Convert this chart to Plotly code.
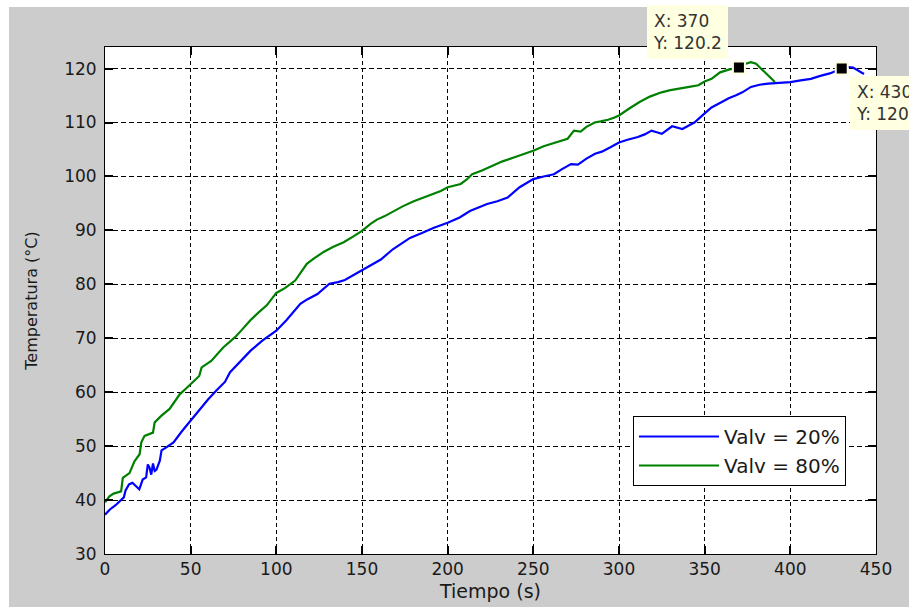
import plotly.graph_objects as go

# ---- data ----
t_20 = [0, 3, 6, 9, 11, 12, 14, 16, 18, 20, 22, 24, 25, 26, 27, 28, 29, 30, 32, 33, 36, 40,
        45, 50, 55, 60, 65, 70, 73, 78, 85, 92, 100, 106, 112, 114, 118, 124, 131, 136, 140,
        145, 150, 155, 161, 168, 173, 178, 185, 192, 200, 207, 213, 218, 223, 229, 235, 242,
        250, 256, 262, 267, 272, 276, 281, 286, 290, 295, 300, 305, 311, 315, 319, 322, 325,
        331, 334, 337, 341, 344, 350, 354, 360, 364, 368, 372, 377, 382, 387, 393, 400, 406,
        412, 417, 423, 427, 430, 433, 436.6, 440, 443]
temp_20 = [37.3, 38.3, 39.0, 39.8, 40.5, 41.8, 42.9, 43.2, 42.5, 42.0, 43.8, 44.2, 46.6, 46.0,
           44.7, 46.8, 45.4, 45.6, 47.3, 49.2, 49.8, 50.7, 52.8, 54.8, 56.8, 58.6, 60.3, 61.9,
           63.7, 65.4, 67.7, 69.6, 71.4, 73.4, 75.8, 76.4, 77.2, 78.2, 80.1, 80.4, 80.8, 81.7,
           82.6, 83.5, 84.6, 86.5, 87.5, 88.6, 89.5, 90.5, 91.4, 92.4, 93.6, 94.2, 94.9, 95.4,
           96.1, 98.0, 99.5, 100.0, 100.4, 101.4, 102.3, 102.2, 103.3, 104.2, 104.6, 105.4,
           106.3, 106.8, 107.3, 107.8, 108.5, 108.2, 107.9, 109.3, 109.0, 108.8, 109.5, 110.0,
           111.7, 112.8, 113.8, 114.5, 115.0, 115.6, 116.6, 117.0, 117.2, 117.3, 117.5, 117.8,
           118.1, 118.6, 119.1, 119.6, 120.0, 120.3, 120.2, 119.6, 119.0]

t_80 = [0, 2.6, 5, 9.4, 10.4, 12, 14.3, 16, 17.2, 20.2, 21.2, 23.1, 26, 28, 29, 32.8, 37.7,
        40, 43.6, 47, 51.3, 55, 56.4, 62, 69, 75.9, 80, 84.7, 90, 94.4, 100, 105, 111, 114,
        117.8, 122, 127.6, 133, 139.3, 145, 150, 155, 158.7, 163, 168.5, 174, 180.2, 186,
        191.9, 196, 200, 204, 207.6, 211, 214.3, 220, 226.9, 232, 238.6, 244, 250.3, 256, 262,
        266.2, 270, 273.7, 277.6, 281, 285.8, 289.3, 293.6, 297, 300, 306, 312, 318, 324.8,
        330, 336.5, 341, 346.3, 350, 354, 359, 364, 370, 374, 377, 380, 382, 386, 391]
temp_80 = [39.6, 40.7, 41.2, 41.6, 44.1, 44.5, 45.0, 46.3, 47.2, 48.5, 50.7, 51.9, 52.3, 52.5,
           54.4, 55.6, 56.9, 58.0, 59.6, 60.6, 61.8, 63.0, 64.6, 65.8, 68.3, 70.2, 71.6, 73.3,
           74.9, 76.1, 78.4, 79.3, 80.7, 82.0, 83.8, 84.8, 86.0, 86.9, 87.8, 88.9, 89.9, 91.2,
           92.0, 92.6, 93.6, 94.5, 95.4, 96.1, 96.7, 97.3, 98.0, 98.3, 98.6, 99.4, 100.4, 101.1,
           102.0, 102.8, 103.5, 104.1, 104.8, 105.6, 106.2, 106.6, 107.0, 108.5, 108.3, 109.2,
           110.0, 110.2, 110.5, 110.9, 111.3, 112.6, 113.8, 114.8, 115.6, 116.0, 116.3, 116.6,
           116.9, 117.6, 118.1, 119.3, 119.8, 120.2, 120.9, 121.2, 120.9, 120.3, 119.0, 117.5]

series_names = ["Valv = 20%", "Valv = 80%"]
tip_x = [370, 430]
tip_y = [120.2, 120.0]
tip_labels = ["120.2", "120"]

x_ticks = [0, 50, 100, 150, 200, 250, 300, 350, 400, 450]
y_ticks = [30, 40, 50, 60, 70, 80, 90, 100, 110, 120]

FONT = "DejaVu Sans"
TXT = "#1a1a1a"
TIP_BG = "#ffffe1"

fig = go.Figure()
fig.add_trace(go.Scatter(x=t_20, y=temp_20, mode="lines", name=series_names[0],
                         line=dict(color="#0000ff", width=2.2)))
fig.add_trace(go.Scatter(x=t_80, y=temp_80, mode="lines", name=series_names[1],
                         line=dict(color="#008000", width=2.2)))
fig.add_trace(go.Scatter(x=tip_x, y=tip_y, mode="markers", showlegend=False,
                         marker=dict(symbol="square", size=12, color="black",
                                     line=dict(color=TIP_BG, width=2)),
                         cliponaxis=False))

axis_common = dict(
    showline=True, linecolor="black", linewidth=1, mirror="ticks",
    ticks="inside", ticklen=8, tickwidth=1.5, tickcolor="black",
    showgrid=True, gridcolor="#000000", gridwidth=1.2,
    zeroline=False, automargin=False,
    tickfont=dict(family=FONT, size=17, color=TXT),
)

fig.update_xaxes(range=[0, 450], tickvals=x_ticks, griddash="4px,3px",
                 title=dict(text="Tiempo (s)", font=dict(family=FONT, size=19, color=TXT),
                            standoff=6),
                 **axis_common)
fig.update_yaxes(range=[30, 124], tickvals=y_ticks, griddash="5px,3px",
                 title=dict(text="Temperatura (°C)", font=dict(family=FONT, size=16, color=TXT),
                            standoff=22),
                 ticklabelstandoff=4,
                 **axis_common)

# data tips
fig.add_annotation(x=tip_x[0], y=tip_y[0], xref="x", yref="y",
                   text=f"X: {tip_x[0]}<br>Y: {tip_labels[0]}", showarrow=False,
                   xanchor="right", yanchor="bottom", xshift=-11, yshift=9, align="left",
                   bgcolor=TIP_BG, bordercolor=TIP_BG, borderpad=5,
                   font=dict(family=FONT, size=17, color="#333333"))
fig.add_annotation(x=tip_x[1], y=tip_y[1], xref="x", yref="y",
                   text=f"X: {tip_x[1]}<br>Y: {tip_labels[1]}", showarrow=False,
                   xanchor="left", yanchor="top", xshift=8, yshift=-7, align="left",
                   bgcolor=TIP_BG, bordercolor=TIP_BG, borderpad=5,
                   font=dict(family=FONT, size=17, color="#333333"))

# white strips around the grey figure area
fig.add_shape(type="rect", xref="paper", yref="paper", x0=-0.2, x1=-105/771 + 9/771,
              y0=-0.2, y1=1.2, fillcolor="white", line=dict(width=0), layer="below")
fig.add_shape(type="rect", xref="paper", yref="paper", x0=-0.2, x1=1.2,
              y0=(554 - 7) / 507, y1=1.2, fillcolor="white", line=dict(width=0), layer="below")

fig.update_layout(
    width=909, height=607,
    margin=dict(l=105, r=33, t=47, b=53, autoexpand=False),
    paper_bgcolor="#cccccc", plot_bgcolor="white",
    showlegend=True,
    legend=dict(x=(633 - 105) / 771, y=(554 - 416) / 507, xanchor="left", yanchor="top",
                bgcolor="white", bordercolor="black", borderwidth=1,
                font=dict(family=FONT, size=20, color=TXT),
                itemwidth=80, tracegroupgap=0),
)

fig.write_html("out.html")
